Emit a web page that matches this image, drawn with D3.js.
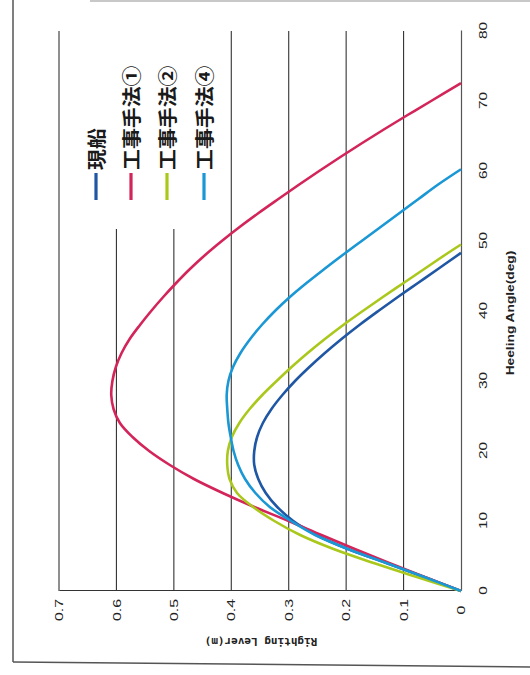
<!DOCTYPE html>
<html>
<head>
<meta charset="utf-8">
<script src="https://cdn.jsdelivr.net/npm/d3@7/dist/d3.min.js"></script>
<style>
  body { margin: 0; background: #fff; }
  svg { display: block; }
</style>
</head>
<body>
<svg id="chart" width="530" height="675"></svg>
<script>
// Righting lever (GZ) curves: heeling angle in degrees, lever in metres
const seriesNames = ["現船", "工事手法①", "工事手法②", "工事手法④"];
const seriesColors = ["#1f57a4", "#d3255a", "#aac81c", "#1a97d5"];

const anglesGenba = [0,2,4,6,8,10,12,14,16,18,20,22,24,26,28,30,32,34,36,38,40,42,44,46,48.3];
const leverGenba  = [0,0.064,0.13,0.197,0.252,0.292,0.32,0.34,0.353,0.36,0.36,0.355,0.345,0.33,0.311,0.289,0.264,0.237,0.208,0.177,0.144,0.11,0.075,0.04,0];

const anglesM1 = [0,2,4,6,8,10,12,14,16,18,20,22,24,26,28,30,32,34,36,38,40,42,44,46,48,50,52,54,56,58,60,62,64,66,68,70,72.55];
const leverM1  = [0,0.063,0.125,0.185,0.243,0.30,0.36,0.415,0.465,0.507,0.543,0.572,0.594,0.605,0.609,0.607,0.601,0.591,0.577,0.559,0.5395,0.5185,0.496,0.472,0.4455,0.4165,0.3855,0.3525,0.318,0.283,0.247,0.21,0.172,0.133,0.093,0.052,0];

const anglesM2 = [0,2,4,6,8,10,12,14,16,18,20,22,24,26,28,30,32,34,36,38,40,42,44,46,48,49.5];
const leverM2  = [0,0.077,0.152,0.222,0.28,0.325,0.362,0.39,0.403,0.407,0.406,0.399,0.386,0.368,0.346,0.321,0.295,0.267,0.237,0.205,0.171,0.136,0.1,0.064,0.028,0];

const anglesM4 = [0,2,4,6,8,10,12,14,16,18,20,22,24,26,28,30,32,34,36,38,40,42,44,46,48,50,52,54,56,58,60.25];
const leverM4  = [0,0.064,0.13,0.197,0.254,0.296,0.333,0.358,0.376,0.388,0.396,0.401,0.405,0.407,0.408,0.405,0.397,0.384,0.367,0.347,0.324,0.298,0.269,0.238,0.206,0.173,0.14,0.107,0.074,0.041,0];

const angleTicks = [0,10,20,30,40,50,60,70,80];
const leverTicks = [0,0.1,0.2,0.3,0.4,0.5,0.6,0.7];
const angleTickLabels = angleTicks.map(String);
const leverTickLabels = ["0","0.1","0.2","0.3","0.4","0.5","0.6","0.7"];

const series = [
  { name: seriesNames[0], color: seriesColors[0], angles: anglesGenba, lever: leverGenba },
  { name: seriesNames[1], color: seriesColors[1], angles: anglesM1,    lever: leverM1 },
  { name: seriesNames[2], color: seriesColors[2], angles: anglesM2,    lever: leverM2 },
  { name: seriesNames[3], color: seriesColors[3], angles: anglesM4,    lever: leverM4 }
];

const svg = d3.select("#chart");

// outer frame of the page
svg.append("line").attr("x1", 13).attr("y1", 0).attr("x2", 13).attr("y2", 662)
  .attr("stroke", "#555").attr("stroke-width", 1.5);
svg.append("line").attr("x1", 13).attr("y1", 662).attr("x2", 530).attr("y2", 667)
  .attr("stroke", "#555").attr("stroke-width", 1.5);
svg.append("line").attr("x1", 90).attr("y1", 1).attr("x2", 530).attr("y2", 1)
  .attr("stroke", "#c8c8c8").attr("stroke-width", 2);

// The chart is laid out in its own frame and turned a quarter turn counter-clockwise
const g = svg.append("g").attr("transform", "translate(0,675) rotate(-90)");

const x = d3.scaleLinear().domain([0, 80]).range([84, 644]);
const y = d3.scaleLinear().domain([0, 0.7]).range([461, 59]);

// horizontal gridlines
g.append("g").selectAll("line")
  .data(leverTicks.filter(v => v > 0))
  .join("line")
  .attr("x1", x(0)).attr("x2", x(80))
  .attr("y1", d => y(d)).attr("y2", d => y(d))
  .attr("stroke", "#333").attr("stroke-width", 1.1);

// axes
const xAxis = g.append("g").attr("transform", `translate(0,${y(0)})`)
  .call(d3.axisBottom(x).tickValues(angleTicks).tickSize(0).tickFormat((d, i) => angleTickLabels[i]));
const yAxis = g.append("g").attr("transform", `translate(${x(0)},0)`)
  .call(d3.axisLeft(y).tickValues(leverTicks).tickSize(0).tickFormat((d, i) => leverTickLabels[i]));

xAxis.select(".domain").attr("stroke", "#555").attr("stroke-width", 1.2);
yAxis.select(".domain").attr("stroke", "#333").attr("stroke-width", 1.2);

xAxis.selectAll("text")
  .attr("y", 0).attr("dy", null).attr("x", 0)
  .attr("text-anchor", "middle").attr("dominant-baseline", "central")
  .attr("transform", "translate(0,22) scale(1.4,1)")
  .attr("font-family", "'Liberation Sans', Arial, sans-serif").attr("font-size", 11)
  .attr("fill", "#222");
yAxis.selectAll("text")
  .attr("x", 0).attr("dy", null)
  .attr("text-anchor", "middle").attr("dominant-baseline", "central")
  .attr("transform", "translate(-19,0) scale(1.45,1)")
  .attr("font-family", "'Liberation Sans', Arial, sans-serif").attr("font-size", 11)
  .attr("fill", "#222");

// axis titles
g.append("text")
  .attr("transform", `translate(${(x(0) + x(80)) / 2 - 2},${y(0) + 49}) scale(1.25,1)`)
  .attr("text-anchor", "middle").attr("dominant-baseline", "central")
  .attr("font-family", "'Liberation Sans', Arial, sans-serif").attr("font-weight", "bold")
  .attr("font-size", 11).attr("fill", "#222")
  .text("Heeling Angle(deg)");

g.append("text")
  .attr("transform", `translate(34,${(y(0) + y(0.7)) / 2 + 1}) rotate(-90)`)
  .attr("text-anchor", "middle").attr("dominant-baseline", "central")
  .attr("font-family", "'DejaVu Sans Mono', monospace").attr("font-weight", "bold")
  .attr("font-size", 11).attr("fill", "#222")
  .text("Righting Lever(m)");

// curves
const line = d3.line()
  .x(d => x(d[0]))
  .y(d => y(d[1]))
  .curve(d3.curveCatmullRom.alpha(0.5));

g.append("g").selectAll("path")
  .data(series)
  .join("path")
  .attr("d", s => line(s.angles.map((a, i) => [a, s.lever[i]])))
  .attr("fill", "none")
  .attr("stroke", s => s.color)
  .attr("stroke-width", 2.6)
  .attr("stroke-linejoin", "round");

// legend
const legend = g.append("g");
legend.append("rect")
  .attr("x", 446).attr("y", 62).attr("width", 204).attr("height", 164)
  .attr("fill", "#fff");
const rowsW = [96, 131, 167, 204];
const items = legend.selectAll("g.item").data(series).join("g")
  .attr("class", "item")
  .attr("transform", (d, i) => `translate(475,${rowsW[i]})`);
items.append("line")
  .attr("x1", 0).attr("x2", 27).attr("y1", 0).attr("y2", 0)
  .attr("stroke", d => d.color).attr("stroke-width", 3.2);
items.append("text")
  .attr("transform", "translate(30,0) scale(1.1,1)")
  .attr("dominant-baseline", "central")
  .attr("font-family", "'Noto Sans CJK JP', sans-serif")
  .attr("font-weight", "bold")
  .attr("font-size", 19).attr("fill", "#1a1a1a")
  .text(d => d.name);
</script>
</body>
</html>
